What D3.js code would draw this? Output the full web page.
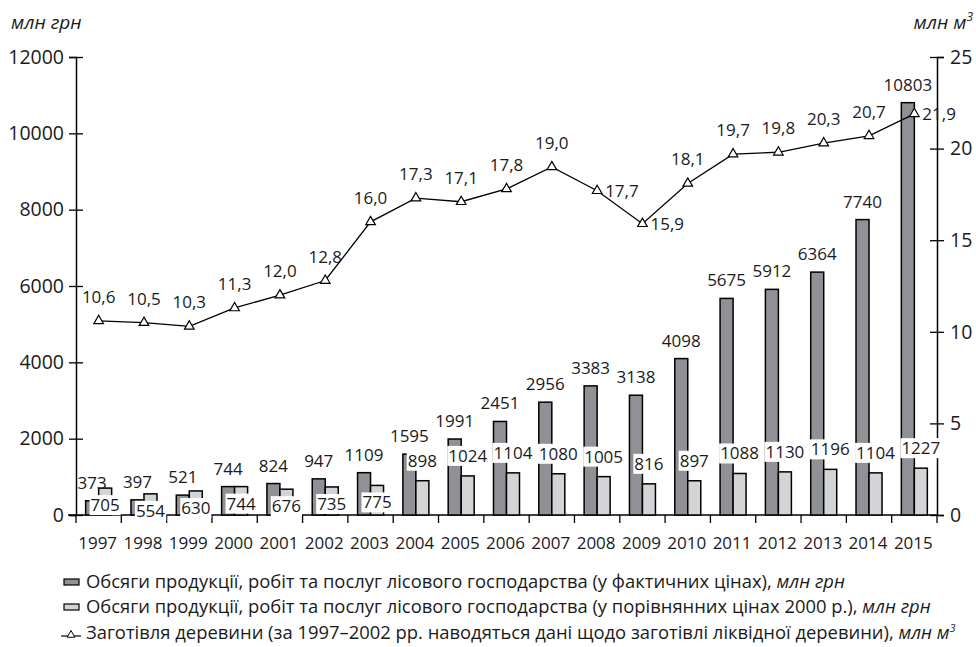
<!DOCTYPE html>
<html>
<head>
<meta charset="utf-8">
<script src="https://cdn.jsdelivr.net/npm/d3@7/dist/d3.min.js"></script>
<style>
	body { margin: 0; background: #fff; }
	text { font-family: "Open Sans", sans-serif; fill: #1a1a1a; }
</style>
</head>
<body>
<svg id="chart" width="976" height="647"></svg>
<script>
// --- data ---
const years = ["1997","1998","1999","2000","2001","2002","2003","2004","2005","2006","2007","2008","2009","2010","2011","2012","2013","2014","2015"]
const actualPrices = [373, 397, 521, 744, 824, 947, 1109, 1595, 1991, 2451, 2956, 3383, 3138, 4098, 5675, 5912, 6364, 7740, 10803]
const comparablePrices = [705, 554, 630, 744, 676, 735, 775, 898, 1024, 1104, 1080, 1005, 816, 897, 1088, 1130, 1196, 1104, 1227]
const timber = [10.6, 10.5, 10.3, 11.3, 12.0, 12.8, 16.0, 17.3, 17.1, 17.8, 19.0, 17.7, 15.9, 18.1, 19.7, 19.8, 20.3, 20.7, 21.9]
const leftTicks = [0, 2000, 4000, 6000, 8000, 10000, 12000]
const rightTicks = [0, 5, 10, 15, 20, 25]
const legendLabels = [
	"Обсяги продукції, робіт та послуг лісового господарства (у фактичних цінах), ",
	"Обсяги продукції, робіт та послуг лісового господарства (у порівнянних цінах 2000 р.), ",
	"Заготівля деревини (за 1997–2002 рр. наводяться дані щодо заготівлі ліквідної деревини), "
]
const legendUnits = ["млн грн", "млн грн", "млн м"]

const svg = d3.select("#chart")
const mLeft = 76, mRight = 937, mTop = 57, mBottom = 515
const darkFill = "#909196", lightFill = "#d3d4d6"

const x = d3.scaleBand().domain(years).range([mLeft, mRight]).padding(0)
const yL = d3.scaleLinear().domain([0, 12000]).range([mBottom, mTop])
const yR = d3.scaleLinear().domain([0, 25]).range([mBottom, mTop])
const bw = 13
const fmt = v => d3.format(".1f")(v).replace(".", ",")
const lblSize = "17px"

// axes
const axL = svg.append("g").attr("transform", `translate(${mLeft},0)`)
	.call(d3.axisLeft(yL).tickValues(leftTicks).tickFormat(d3.format("d")).tickSizeOuter(0).tickSize(7).tickPadding(5))
axL.selectAll(".tick line").attr("x1", 7)
const axR = svg.append("g").attr("transform", `translate(${mRight},0)`)
	.call(d3.axisRight(yR).tickValues(rightTicks).tickSizeOuter(0).tickSize(7).tickPadding(6))
axR.selectAll(".tick line").attr("x1", -7)
;[axL, axR].forEach(a => {
	a.select(".domain").attr("stroke", "#000").attr("stroke-width", 1.5)
	a.selectAll(".tick line").attr("stroke", "#000").attr("stroke-width", 1.3)
	a.selectAll("text").style("font-size", "19.5px").attr("fill", "#1a1a1a")
})

// x axis: ticks on band boundaries
const axX = svg.append("g").attr("transform", `translate(0,${mBottom})`)
axX.append("line").attr("x1", 68).attr("x2", mRight).attr("stroke", "#000").attr("stroke-width", 1.5)
axX.selectAll("line.b").data(d3.range(years.length + 1)).join("line").attr("class", "b")
	.attr("x1", i => mLeft + i * x.bandwidth()).attr("x2", i => mLeft + i * x.bandwidth())
	.attr("y1", 0).attr("y2", 8).attr("stroke", "#000").attr("stroke-width", 1.3)
axX.selectAll("text").data(years).join("text")
	.attr("x", d => x(d) + x.bandwidth() / 2 - 1).attr("y", 34)
	.attr("text-anchor", "middle").style("font-size", "17px").text(d => d)

// axis titles
svg.append("text").attr("x", 11).attr("y", 29).style("font-size", "19px").style("font-style", "italic").text("млн грн")
const ut = svg.append("text").attr("x", 973).attr("y", 29).attr("text-anchor", "end").style("font-size", "19px").style("font-style", "italic")
ut.append("tspan").text("млн м")
ut.append("tspan").attr("dy", -8).style("font-size", "12px").text("3")

// bars
const cx = d => x(d) + x.bandwidth() / 2
svg.append("g").selectAll("rect").data(years).join("rect")
	.attr("x", d => cx(d) - bw).attr("width", bw)
	.attr("y", (d, i) => yL(actualPrices[i])).attr("height", (d, i) => mBottom - yL(actualPrices[i]))
	.attr("fill", darkFill).attr("stroke", "#000").attr("stroke-width", 1.5)
svg.append("g").selectAll("rect").data(years).join("rect")
	.attr("x", d => cx(d)).attr("width", bw)
	.attr("y", (d, i) => yL(comparablePrices[i])).attr("height", (d, i) => mBottom - yL(comparablePrices[i]))
	.attr("fill", lightFill).attr("stroke", "#000").attr("stroke-width", 1.5)

// labels, optionally on a white box
function boxedLabel(g, tx, ty, str, box) {
	const t = g.append("text").attr("x", tx).attr("y", ty).attr("text-anchor", "middle").style("font-size", lblSize).text(str)
	if (box) {
		const b = t.node().getBBox()
		g.insert("rect", "text").attr("x", b.x - 1).attr("y", b.y + 2).attr("width", b.width + 2).attr("height", b.height - 3).attr("fill", "#fff")
	}
}
const lbl = svg.append("g")
years.forEach((d, i) => {
	boxedLabel(lbl.append("g"), cx(d) - bw / 2, yL(actualPrices[i]) - 12, actualPrices[i], false)
})
years.forEach((d, i) => {
	const inside = i < 7
	const ty = inside ? yL(comparablePrices[i]) + 23 : yL(comparablePrices[i]) - 14
	boxedLabel(lbl.append("g"), cx(d) + bw / 2, ty, comparablePrices[i], true)
})

// timber line
const line = d3.line().x((d, i) => cx(years[i])).y(d => yR(d))
svg.append("path").datum(timber).attr("d", line).attr("fill", "none").attr("stroke", "#000").attr("stroke-width", 1.3)
const tri = d3.symbol().type(d3.symbolTriangle).size(40)
svg.append("g").selectAll("path").data(timber).join("path")
	.attr("d", tri).attr("transform", (d, i) => `translate(${cx(years[i])},${yR(d)})`)
	.attr("fill", "#fff").attr("stroke", "#000").attr("stroke-width", 1.2)
const rightSide = new Set(["2008", "2009", "2015"])
svg.append("g").selectAll("text").data(timber).join("text")
	.attr("x", (d, i) => rightSide.has(years[i]) ? cx(years[i]) + 8 : cx(years[i]))
	.attr("y", (d, i) => rightSide.has(years[i]) ? yR(d) + 6 : yR(d) - 18)
	.attr("text-anchor", (d, i) => rightSide.has(years[i]) ? "start" : "middle")
	.style("font-size", lblSize).text(d => fmt(d))

// legend
const lg = svg.append("g")
const rowY = [582, 607, 633]
legendLabels.forEach((s, i) => {
	const y0 = rowY[i]
	if (i < 2) {
		lg.append("rect").attr("x", 64).attr("y", y0 - 3).attr("width", 15).attr("height", 6)
			.attr("fill", i === 0 ? darkFill : lightFill).attr("stroke", "#000").attr("stroke-width", 1.2)
	} else {
		lg.append("line").attr("x1", 61).attr("x2", 81).attr("y1", y0 + 3).attr("y2", y0 + 3).attr("stroke", "#000").attr("stroke-width", 1.2)
		lg.append("path").attr("d", d3.symbol().type(d3.symbolTriangle).size(26))
			.attr("transform", `translate(71,${y0 + 2})`).attr("fill", "#fff").attr("stroke", "#000").attr("stroke-width", 1)
	}
	const t = lg.append("text").attr("x", 86).attr("y", y0 + 6).style("font-size", "18.4px")
	t.append("tspan").text(s)
	t.append("tspan").style("font-style", "italic").text(legendUnits[i])
	if (i === 2) t.append("tspan").attr("dy", -7).style("font-size", "11px").style("font-style", "italic").text("3")
})
</script>
</body>
</html>
